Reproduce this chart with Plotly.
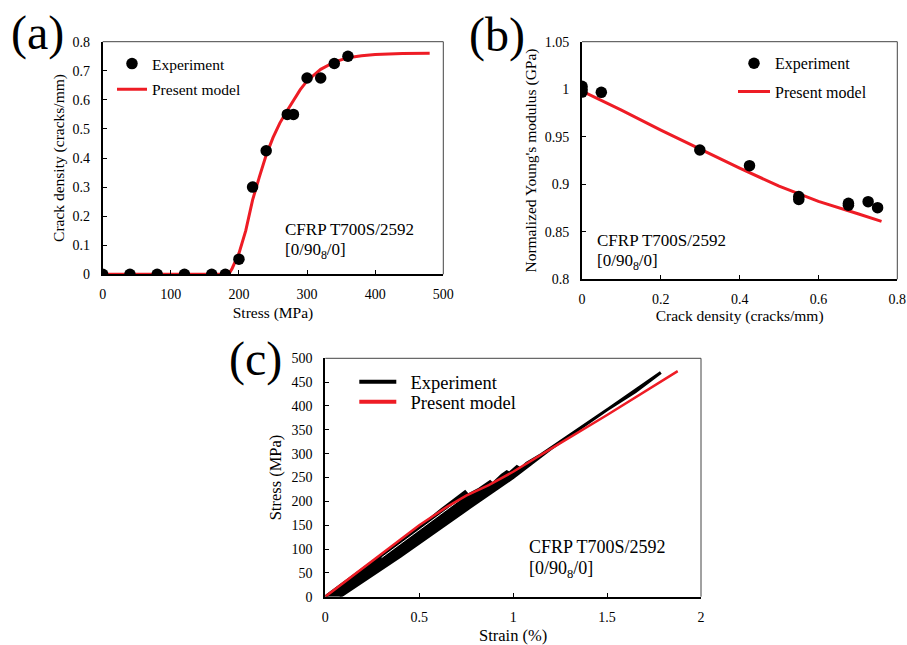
import plotly.graph_objects as go

W, H = 907, 645
FONT = "Liberation Serif"

# ---------------- Panel (a) data ----------------
a_exp_stress = [0, 40, 80, 120, 160, 180, 200, 220, 240, 271, 280, 300, 320, 340, 360]
a_exp_density = [0, 0, 0, 0, 0, 0, 0.052, 0.30, 0.425, 0.55, 0.55, 0.675, 0.675, 0.725, 0.75]
a_mod_stress = [0, 185, 190, 200, 210, 220, 230, 240, 250, 260, 270, 280, 290, 300, 320, 340, 360, 380, 400, 440, 480]
a_mod_density = [0, 0, 0.02, 0.072, 0.15, 0.255, 0.335, 0.41, 0.47, 0.52, 0.56, 0.60, 0.635, 0.665, 0.705, 0.73, 0.745, 0.752, 0.756, 0.759, 0.76]

# ---------------- Panel (b) data ----------------
b_exp_density = [0, 0, 0, 0.049, 0.299, 0.425, 0.55, 0.55, 0.676, 0.676, 0.726, 0.75]
b_exp_modulus = [1.003, 1.0, 0.997, 0.9967, 0.936, 0.9196, 0.887, 0.884, 0.880, 0.878, 0.8817, 0.8754]
b_mod_density = [0, 0.1, 0.2, 0.3, 0.4, 0.5, 0.6, 0.7, 0.76]
b_mod_modulus = [0.998, 0.978, 0.957, 0.937, 0.917, 0.898, 0.882, 0.869, 0.861]

# ---------------- Panel (c) data ----------------
c_exp_upper_strain = [0, 0.25, 0.5, 0.62, 0.70, 0.744, 0.76, 0.82, 0.877, 0.89, 0.94, 0.966, 0.98, 1.02, 1.04, 1.072, 1.15, 1.3, 1.5, 1.65, 1.786]
c_exp_upper_stress = [0, 72, 145, 183, 206, 220, 213, 226, 241, 236, 255, 262, 259, 273, 268, 280, 298, 338, 392, 430, 470]
c_exp_lower_strain = [0.078, 0.4, 0.75, 1.0, 1.2]
c_exp_lower_stress = [0, 85, 182, 250, 310]
c_exp_gap_strain = [0.30, 0.72]
c_exp_gap_stress = [82, 204]
c_mod_strain = [0, 0.5, 0.65, 0.75, 0.87, 1.0, 1.2, 1.5, 1.876]
c_mod_stress = [0, 150, 189, 212, 234, 262, 310, 381, 473]

a_xticks = [0, 100, 200, 300, 400, 500]
a_yticks = [0, 0.1, 0.2, 0.3, 0.4, 0.5, 0.6, 0.7, 0.8]
b_xticks = [0, 0.2, 0.4, 0.6, 0.8]
b_yticks = [0.8, 0.85, 0.9, 0.95, 1.0, 1.05]
b_ytick_text = ["0.8", "0.85", "0.9", "0.95", "1", "1.05"]
c_xticks = [0, 0.5, 1, 1.5, 2]
c_yticks = [0, 50, 100, 150, 200, 250, 300, 350, 400, 450, 500]

RED = "#ee1c25"


def px_x(p):
    return p / W


def px_y(p):
    return 1 - p / H


fig = go.Figure()

# Panel (a)
fig.add_trace(go.Scatter(x=a_mod_stress, y=a_mod_density, mode="lines", name="Present model",
                         line=dict(color=RED, width=3), xaxis="x", yaxis="y", legend="legend2"))
fig.add_trace(go.Scatter(x=a_exp_stress, y=a_exp_density, mode="markers", name="Experiment",
                         marker=dict(color="black", size=11.5), xaxis="x", yaxis="y", legend="legend"))

# Panel (b)
fig.add_trace(go.Scatter(x=b_mod_density, y=b_mod_modulus, mode="lines", name="Present model",
                         line=dict(color=RED, width=3), xaxis="x2", yaxis="y2", legend="legend4"))
fig.add_trace(go.Scatter(x=b_exp_density, y=b_exp_modulus, mode="markers", name="Experiment",
                         marker=dict(color="black", size=11.5), xaxis="x2", yaxis="y2", legend="legend3"))

# Panel (c)
band_x = c_exp_upper_strain + c_exp_lower_strain[::-1]
band_y = c_exp_upper_stress + c_exp_lower_stress[::-1]
fig.add_trace(go.Scatter(x=band_x, y=band_y, mode="lines", fill="toself", fillcolor="black",
                         line=dict(color="black", width=3), showlegend=False,
                         xaxis="x3", yaxis="y3", hoverinfo="skip"))
fig.add_trace(go.Scatter(x=c_exp_gap_strain, y=c_exp_gap_stress, mode="lines",
                         line=dict(color="white", width=1), showlegend=False,
                         xaxis="x3", yaxis="y3", hoverinfo="skip"))
fig.add_trace(go.Scatter(x=c_mod_strain, y=c_mod_stress, mode="lines", showlegend=False,
                         line=dict(color=RED, width=2.5), xaxis="x3", yaxis="y3"))
fig.add_trace(go.Scatter(x=[None], y=[None], mode="lines", name="&nbsp;&nbsp;Experiment",
                         line=dict(color="black", width=4), xaxis="x3", yaxis="y3", legend="legend5"))
fig.add_trace(go.Scatter(x=[None], y=[None], mode="lines", name="&nbsp;&nbsp;Present model",
                         line=dict(color=RED, width=4), xaxis="x3", yaxis="y3", legend="legend6"))

axis_common = dict(showgrid=False, zeroline=False, showline=True, linecolor="black", linewidth=2,
                   ticks="inside", ticklen=4, tickwidth=1, tickcolor="black", mirror=False,
                   tickfont=dict(family=FONT, size=14, color="black"), automargin=False,
                   fixedrange=True)


def title(text, size, standoff):
    return dict(text=text, font=dict(family=FONT, size=size, color="black"), standoff=standoff)


dom_a_x = [px_x(102.7), px_x(443.3)]
dom_a_y = [px_y(274.3), px_y(41.7)]
dom_b_x = [px_x(582), px_x(897.3)]
dom_b_y = [px_y(279.3), px_y(41.7)]
dom_c_x = [px_x(325.3), px_x(701)]
dom_c_y = [px_y(596.7), px_y(358.3)]


def leg(x, top, size, itemwidth):
    return dict(x=px_x(x), y=px_y(top), xanchor="left", yanchor="top",
                bgcolor="rgba(0,0,0,0)", font=dict(family=FONT, size=size, color="black"),
                itemwidth=itemwidth)


fig.update_layout(
    width=W, height=H, autosize=False, template="none",
    margin=dict(l=0, r=0, t=0, b=0),
    paper_bgcolor="white", plot_bgcolor="white",
    font=dict(family=FONT, color="black"),
    xaxis=dict(axis_common, domain=dom_a_x, range=[0, 500], tickvals=a_xticks,
               ticklabelstandoff=6, anchor="y", title=title("Stress (MPa)", 15.5, 6)),
    yaxis=dict(axis_common, domain=dom_a_y, range=[0, 0.8], tickvals=a_yticks,
               ticklabelstandoff=8, anchor="x", title=title("Crack density (cracks/mm)", 15.5, 4)),
    xaxis2=dict(axis_common, domain=dom_b_x, range=[0, 0.8], tickvals=b_xticks,
                ticklabelstandoff=6, anchor="y2", title=title("Crack density (cracks/mm)", 15.5, 4)),
    yaxis2=dict(axis_common, domain=dom_b_y, range=[0.8, 1.05], tickvals=b_yticks,
                ticktext=b_ytick_text, ticklabelstandoff=8, anchor="x2",
                title=title("Normalized Young's modulus (GPa)", 15.5, 4)),
    xaxis3=dict(axis_common, domain=dom_c_x, range=[0, 2], tickvals=c_xticks,
                ticklabelstandoff=6, anchor="y3", title=title("Strain (%)", 16.5, 6)),
    yaxis3=dict(axis_common, domain=dom_c_y, range=[0, 500], tickvals=c_yticks,
                ticklabelstandoff=8, anchor="x3", title=title("Stress (MPa)", 16.5, 6)),
    legend=leg(112, 47, 15.5, 30),
    legend2=leg(112, 72.7, 15.5, 30),
    legend3=leg(733, 46.3, 16, 32),
    legend4=leg(733, 74.7, 16, 32),
    legend5=leg(354.3, 363.3, 18.5, 37),
    legend6=leg(354.3, 383.3, 18.5, 37),
)

# thin top/right frame lines
shapes = []
for xa, ya in [("x", "y"), ("x2", "y2"), ("x3", "y3")]:
    shapes.append(dict(type="line", xref=f"{xa} domain", yref=f"{ya} domain", x0=0, x1=1, y0=1, y1=1,
                       line=dict(color="#444444", width=1)))
    shapes.append(dict(type="line", xref=f"{xa} domain", yref=f"{ya} domain", x0=1, x1=1, y0=0, y1=1,
                       line=dict(color="#444444", width=1)))
fig.update_layout(shapes=shapes)

ann = []


def add_text(text, x, y, size, angle=0, xanchor="center", yanchor="middle"):
    ann.append(dict(text=text, x=px_x(x), y=px_y(y), xref="paper", yref="paper", showarrow=False,
                    font=dict(family=FONT, size=size, color="black"), textangle=angle,
                    xanchor=xanchor, yanchor=yanchor))


# panel labels
add_text("(a)", 37, 33, 48)
add_text("(b)", 497, 35, 48)
add_text("(c)", 255, 359, 48)
# specimen labels
add_text("CFRP T700S/2592", 283, 229, 17, xanchor="left")
add_text("[0/90<sub>8</sub>/0]", 283, 251, 17, xanchor="left")
add_text("CFRP T700S/2592", 595, 240, 17, xanchor="left")
add_text("[0/90<sub>8</sub>/0]", 595, 262, 17, xanchor="left")
add_text("CFRP T700S/2592", 527, 547, 18, xanchor="left")
add_text("[0/90<sub>8</sub>/0]", 527, 569, 18, xanchor="left")
fig.update_layout(annotations=ann)

fig.write_html("out.html")
